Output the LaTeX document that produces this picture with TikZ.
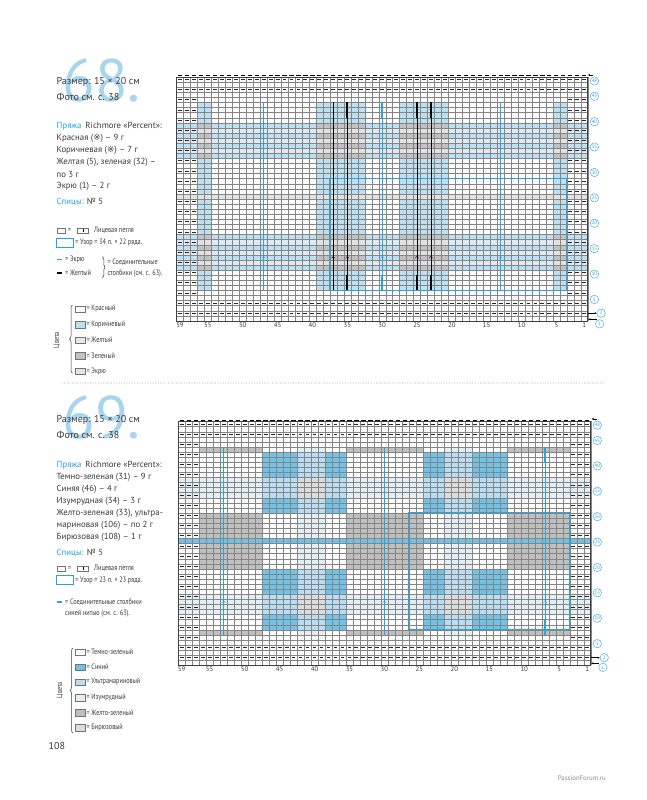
\documentclass[tikz,border=0pt]{standalone}
\usepackage{fontspec}
\setmainfont{PT Sans}
\newfontfamily\narrowfont[FakeStretch=0.8]{PT Sans}
\newfontfamily\marksymfont{DejaVu Sans}
\usepackage{tikz}
\usetikzlibrary{arrows.meta,positioning,decorations.pathreplacing,calc}
\definecolor{pfblue}{HTML}{2AA3DB}
\definecolor{pfnum}{HTML}{A6D5EF}
\definecolor{pfdots}{HTML}{9CCFEA}
\definecolor{pftext}{HTML}{3A3A3A}
\definecolor{pfgrid}{HTML}{858585}
\definecolor{brownc}{HTML}{BDE0F2}
\definecolor{yellowc}{HTML}{DCEBF5}
\definecolor{greenc}{HTML}{C2C2C2}
\definecolor{ecruc}{HTML}{E2E2E2}
\definecolor{bluec}{HTML}{6FC3E8}
\definecolor{ultrac}{HTML}{B9DDF2}
\definecolor{emeraldc}{HTML}{E3EEF5}
\definecolor{ygreenc}{HTML}{BFBFBF}
\definecolor{turqc}{HTML}{DCDCDC}

\newcommand{\chartbase}{%
  \foreach \i in {0,...,59} \draw[cellline] (\i,0) -- (\i,48);
  \foreach \r in {0,...,48} \draw[cellline] (0,\r) -- (59,\r);
  \draw[chartedge] (0,0) rectangle (59,48);
  \foreach \r in {6,8,...,44}
    \foreach \i in {0,1,2,56,57,58}
      \draw[purl] (\i+0.22,\r-0.5) -- (\i+0.78,\r-0.5);
  \foreach \r in {2,4,46,48}
    \foreach \i in {0,...,58}
      \draw[purl] (\i+0.22,\r-0.5) -- (\i+0.78,\r-0.5);
  \foreach \i in {0,...,58}
    \draw[bindoff] (\i+0.2,48.25) -- (\i+0.8,48.25);
}

\begin{document}
\begin{tikzpicture}[
    x=1pt,
    y=-1pt,
    font=\fontsize{8.8}{11}\selectfont,
    txt/.style={anchor=west, inner sep=0pt, text=pftext},
    leg/.style={anchor=west, inner sep=0pt, text=pftext, font=\narrowfont\fontsize{7.8}{9}\selectfont},
    bignum/.style={anchor=base east, inner sep=0pt, text=pfnum, font=\fontsize{60}{60}\selectfont},
    cellline/.style={draw=pfgrid, line width=0.2pt},
    chartedge/.style={draw=black!75, line width=0.6pt},
    purl/.style={draw=black!85, line width=0.7pt},
    bindoff/.style={draw=black, line width=0.9pt},
    repeatbox/.style={draw=pfblue, line width=1.1pt},
    slipthin/.style={line width=0.45pt},
    slipthick/.style={line width=1.6pt},
    slipmark/.style={line width=0.4pt},
    rownum/.style={circle, draw=pfblue, line width=0.4pt, text=pfblue, inner sep=0pt, minimum size=8.4pt, font=\fontsize{4.8}{5}\selectfont},
    colnum/.style={text=pftext, inner sep=0.5pt, font=\fontsize{6.8}{7}\selectfont},
    rowarrow/.style={-{Stealth[length=2.2pt,width=2pt]}, line width=0.45pt, draw=black},
    swatch/.style={draw=black!55, line width=0.4pt, minimum width=9.5pt, minimum height=6.5pt, inner sep=0pt},
    legbrace/.style={decorate, decoration={brace, amplitude=2.5pt}, draw=pftext, line width=0.5pt}
  ]
  \useasboundingbox (0,0) rectangle (646,800);
  \fill[white] (0,0) rectangle (646,800);

  % chart 68
  \node[bignum] (num68) at (141,101.7) {68.};
  \node[txt, font=\fontsize{10}{12}\selectfont] (size68) at (56.5,81.7) {Размер: 15 × 20 см};
  \node[txt, font=\fontsize{10}{12}\selectfont] (photo68) at (56.5,96.5) {Фото см. с. 38};
  \node[txt] (yarn68) at (56.5,126) {\textcolor{pfblue}{Пряжа}\, Richmore «Percent»:};
  \node[txt] (red68) at (56.5,138.3) {Красная ({\marksymfont ※}) – 9 г};
  \node[txt] (brown68) at (56.5,150.3) {Коричневая ({\marksymfont ※}) – 7 г};
  \node[txt] (yellow68) at (56.5,162.3) {Желтая (5), зеленая (32) –};
  \node[txt] (each68) at (56.5,174.3) {по 3 г};
  \node[txt] (ecru68) at (56.5,186.5) {Экрю (1) – 2 г};
  \node[txt] (needles68) at (56.5,201.7) {\textcolor{pfblue}{Спицы:} № 5};

  \node[swatch, minimum width=7.7pt, minimum height=5pt] (knitA68) at (61.2,230.5) {};
  \node[leg] (eqA68) at (67.6,230.5) {=};
  \node[swatch, minimum width=11pt, minimum height=5pt] (knitB68) at (82.8,230.5) {};
  \draw[line width=0.6pt] ($(knitB68.center)+(0,-1.5)$) -- ($(knitB68.center)+(0,1.5)$);
  \node[leg] (knit68) at (94,230.7) {Лицевая петля};
  \node[draw=pfblue, line width=1pt, minimum width=17pt, minimum height=9pt, inner sep=0pt] (rep68) at (64.7,242.7) {};
  \node[leg, right=1.5pt of rep68] (repT68) {= Узор = 34 п. × 22 ряда.};
  \coordinate (ecruA68) at (57.3,259.3);
  \coordinate (ecruB68) at (62.3,259.3);
  \draw[pfblue, line width=1.6pt] (ecruA68) -- (ecruB68);
  \node[leg] (ecruT68) at (65,259.3) {= Экрю};
  \coordinate (yelA68) at (57.3,272.7);
  \coordinate (yelB68) at (62.3,272.7);
  \draw[black, line width=1.6pt] (yelA68) -- (yelB68);
  \node[leg] (yelT68) at (65,272.7) {= Желтый};
  \coordinate (braceT68) at (102.5,256.5);
  \coordinate (braceB68) at (102.5,278);
  \draw[legbrace] (braceT68) -- (braceB68);
  \node[leg] (slipA68) at (107.3,262.3) {= Соединительные};
  \node[leg] (slipB68) at (107.3,273.3) {столбики (см. с. 63).};

  \node[leg, rotate=90, anchor=center] (colors68) at (57,340) {Цвета};
  \coordinate (cbB68) at (72.5,373);
  \coordinate (cbT68) at (72.5,305);
  \draw[legbrace, decoration={amplitude=3pt}] (cbB68) -- (cbT68);
  \foreach \yy/\cc/\tt [count=\k] in {309/white/Красный, 324.5/brownc/Коричневый, 340/yellowc/Желтый, 355.5/greenc/Зеленый, 371/ecruc/Экрю} {
    \node[swatch, fill=\cc] (sw68-\k) at (80,\yy) {};
    \node[leg, right=1.5pt of sw68-\k] (swt68-\k) {= \tt};
  }

  \begin{scope}[shift={(176.5,320.8)}, x=6.97pt, y=5.08pt]
    \foreach \a/\b in {3/5,20/27,32/39,54/56}
      \fill[brownc] (\a,6) rectangle (\b,43);
    \foreach \lo in {10,32} {
      \fill[brownc] (0,\lo) rectangle (59,\lo+7);
      \foreach \k in {1,3,5}
        \fill[yellowc] (0,\lo+\k) rectangle (59,\lo+\k+1);
      \foreach \a/\b in {3/5,20/27,32/39,54/56} {
        \foreach \k in {0,2,4,6}
          \fill[greenc] (\a,\lo+\k) rectangle (\b,\lo+\k+1);
        \foreach \k in {1,3,5}
          \fill[ecruc] (\a,\lo+\k) rectangle (\b,\lo+\k+1);
      }
    }
    \fill[ecruc] (0,24) rectangle (59,25);
    \chartbase
    \draw[repeatbox] (22,6) rectangle (56,28);
    \foreach \i/\cc in {12/pfblue,29/pfblue,46/pfblue,22/black,24/black,34/black,36/black} {
      \draw[slipthin, \cc] (\i+0.5,6) -- (\i+0.5,43);
      \draw[slipthick, \cc] (\i+0.5,40) -- (\i+0.5,43);
      \draw[slipthick, \cc] (\i+0.5,6) -- (\i+0.5,9);
      \draw[slipmark, \cc] (\i+0.25,12.3) -- (\i+0.5,12.7) -- (\i+0.75,12.3);
    }
    \foreach \c in {59,55,50,45,40,35,30,25,20,15,10,5,1}
      \node[colnum, below=1pt] (cn68-\c) at (59-\c+0.5,0) {\c};
    \foreach \r in {5,10,...,45,48}
      \node[rownum, right=2.3pt, yshift=-1.5pt] (rn68-\r) at (59,\r-0.5) {\r};
    \node[rownum, right=9pt] (rn68-2) at (59,1.5) {2};
    \node[rownum, right=7.5pt] (rn68-1) at (59,-0.6) {1};
    \coordinate (r2s68) at (59.05,1.5);
    \draw[rowarrow] (r2s68) -- (rn68-2.west);
    \coordinate (r1s68) at (60.3,0.3);
    \coordinate (r1e68) at (59.1,0.3);
    \draw[rowarrow] (r1s68) -- (r1e68);
    \coordinate (tops68) at (59.8,48.4);
    \coordinate (tope68) at (59.05,48.4);
    \draw[rowarrow] (tops68) -- (tope68);
  \end{scope}

  \coordinate (sepL) at (62,383);
  \coordinate (sepR) at (604,383);
  \draw[pfdots, line width=1.3pt, line cap=round, dash pattern=on 0pt off 2.6pt] (sepL) -- (sepR);

  % chart 69
  \node[bignum] (num69) at (141,438.3) {69.};
  \node[txt, font=\fontsize{10}{12}\selectfont] (size69) at (56.5,420) {Размер: 15 × 20 см};
  \node[txt, font=\fontsize{10}{12}\selectfont] (photo69) at (56.5,435) {Фото см. с. 38};
  \node[txt] (yarn69) at (56.5,465.7) {\textcolor{pfblue}{Пряжа}\, Richmore «Percent»:};
  \node[txt] (dgreen69) at (56.5,477.7) {Темно-зеленая (31) – 9 г};
  \node[txt] (blue69) at (56.5,489.7) {Синяя (46) – 4 г};
  \node[txt] (emer69) at (56.5,501.7) {Изумрудная (34) – 3 г};
  \node[txt] (ygreen69) at (56.5,513.7) {Желто-зеленая (33), ультра-};
  \node[txt] (ultra69) at (56.5,525.7) {мариновая (106) – по 2 г};
  \node[txt] (turq69) at (56.5,537.7) {Бирюзовая (108) – 1 г};
  \node[txt] (needles69) at (56.5,553.3) {\textcolor{pfblue}{Спицы:} № 5};

  \node[swatch, minimum width=7.7pt, minimum height=5pt] (knitA69) at (61.2,568.3) {};
  \node[leg] (eqA69) at (67.6,568.3) {=};
  \node[swatch, minimum width=11pt, minimum height=5pt] (knitB69) at (82.8,568.3) {};
  \draw[line width=0.6pt] ($(knitB69.center)+(0,-1.5)$) -- ($(knitB69.center)+(0,1.5)$);
  \node[leg] (knit69) at (94,568.5) {Лицевая петля};
  \node[draw=pfblue, line width=1pt, minimum width=17pt, minimum height=9pt, inner sep=0pt] (rep69) at (64.7,580) {};
  \node[leg, right=1.5pt of rep69] (repT69) {= Узор = 23 п. × 23 ряда.};
  \coordinate (slipA69) at (57.3,601.7);
  \coordinate (slipB69) at (62.3,601.7);
  \draw[pfblue, line width=1.6pt] (slipA69) -- (slipB69);
  \node[leg] (slipT69) at (65,601.7) {= Соединительные столбики};
  \node[leg] (slipU69) at (65,613.3) {синей нитью (см. с. 63).};

  \node[leg, rotate=90, anchor=center] (colors69) at (60,690) {Цвета};
  \coordinate (cbB69) at (73,733);
  \coordinate (cbT69) at (73,648);
  \draw[legbrace, decoration={amplitude=3pt}] (cbB69) -- (cbT69);
  \foreach \yy/\cc/\tt [count=\k] in {652/white/Темно-зеленый, 667/bluec/Синий, 682/ultrac/Ультрамариновый, 697.5/emeraldc/Изумрудный, 712.5/ygreenc/Желто-зеленый, 727.5/turqc/Бирюзовый} {
    \node[swatch, fill=\cc] (sw69-\k) at (80,\yy) {};
    \node[leg, right=1.5pt of sw69-\k] (swt69-\k) {= \tt};
  }

  \begin{scope}[shift={(178.2,665.3)}, x=6.99pt, y=5.08pt]
    \foreach \a in {17,38}
      \fill[emeraldc] (\a,6) rectangle (\a+4,43);
    \foreach \lo in {10,33}
      \fill[emeraldc] (0,\lo) rectangle (59,\lo+4);
    \foreach \a/\b in {3/12,24/35,47/56} {
      \fill[ygreenc] (\a,42) rectangle (\b,43);
      \fill[ygreenc] (\a,19) rectangle (\b,30);
      \fill[ygreenc] (\a,6) rectangle (\b,7);
    }
    \foreach \a/\p in {12/17,35/38}
      \foreach \lo/\q in {30/33,7/10} {
        \fill[bluec] (\a,\lo) rectangle (\a+12,\lo+12);
        \fill[ultrac] (\p,\lo) rectangle (\p+4,\lo+12);
        \fill[ultrac] (\a,\q) rectangle (\a+12,\q+4);
        \fill[turqc] (\p,\q) rectangle (\p+4,\q+4);
      }
    \fill[bluec] (0,24) rectangle (59,25);
    \chartbase
    \draw[repeatbox] (33,7) rectangle (56,30);
    \foreach \i in {6,29,52} {
      \draw[slipthin, pfblue] (\i+0.5,6) -- (\i+0.5,43);
      \draw[slipthick, pfblue] (\i+0.5,40) -- (\i+0.5,43);
      \draw[slipthick, pfblue] (\i+0.5,6) -- (\i+0.5,9);
      \draw[slipmark, pfblue] (\i+0.25,12.3) -- (\i+0.5,12.7) -- (\i+0.75,12.3);
    }
    \foreach \c in {59,55,50,45,40,35,30,25,20,15,10,5,1}
      \node[colnum, below=1pt] (cn69-\c) at (59-\c+0.5,0) {\c};
    \foreach \r in {5,10,...,45,48}
      \node[rownum, right=2.3pt, yshift=-1.2pt] (rn69-\r) at (59,\r-0.5) {\r};
    \node[rownum, right=9.2pt] (rn69-2) at (59,1.5) {2};
    \node[rownum, right=7.9pt] (rn69-1) at (59,-0.4) {1};
    \coordinate (r2s69) at (59.05,1.5);
    \draw[rowarrow] (r2s69) -- (rn69-2.west);
    \coordinate (r1s69) at (60.2,0.4);
    \coordinate (r1e69) at (59.1,0.4);
    \draw[rowarrow] (r1s69) -- (r1e69);
    \coordinate (tops69) at (59.9,48.5);
    \coordinate (tope69) at (59.15,48.5);
    \draw[rowarrow] (tops69) -- (tope69);
  \end{scope}

  \node[txt, font=\fontsize{10}{12}\selectfont] (page) at (48.5,746) {108};
  \node[anchor=east, inner sep=0pt, text=black!45, font=\fontsize{6.8}{8}\selectfont] (mark) at (606,778) {PassionForum.ru};
\end{tikzpicture}
\end{document}
